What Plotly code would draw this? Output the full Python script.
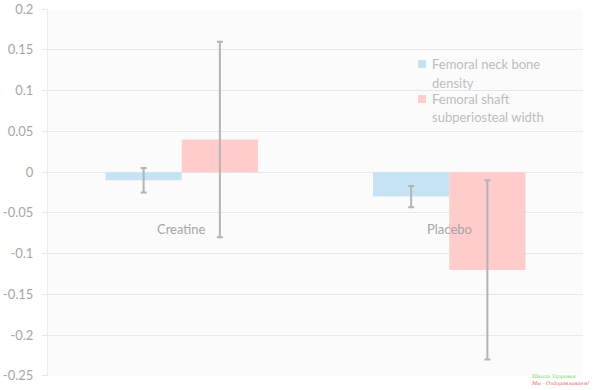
import plotly.graph_objects as go

categories = ["Creatine", "Placebo"]
series_names = ["Femoral neck bone<br>density", "Femoral shaft<br>subperiosteal width"]
neck_values = [-0.01, -0.03]
neck_errors = [0.015, 0.013]
shaft_values = [0.04, -0.12]
shaft_errors = [0.12, 0.11]
y_ticks = [0.2, 0.15, 0.1, 0.05, 0, -0.05, -0.1, -0.15, -0.2, -0.25]
y_tick_labels = ["0.2", "0.15", "0.1", "0.05", "0", "-0.05", "-0.1", "-0.15", "-0.2", "-0.25"]
colors = ["#c6e3f5", "#ffcccc"]

grey_text = "#a6a6a6"
err_color = "#b4b4b4"
FONT = "Lato, 'Open Sans', sans-serif"

W, H = 594, 390
ML, MR, MT, MB = 48, 11, 9, 14

fig = go.Figure()
fig.add_trace(go.Bar(
    x=categories, y=neck_values, name=series_names[0].replace("<br>", " "),
    marker=dict(color=colors[0], line=dict(width=0)),
    error_y=dict(type="data", array=neck_errors, color=err_color, thickness=2, width=3),
))
fig.add_trace(go.Bar(
    x=categories, y=shaft_values, name=series_names[1].replace("<br>", " "),
    marker=dict(color=colors[1], line=dict(width=0)),
    error_y=dict(type="data", array=shaft_errors, color=err_color, thickness=2, width=3),
))

for c in categories:
    fig.add_annotation(x=c, y=-0.07, text=c, showarrow=False, xref="x", yref="y",
                       font=dict(family=FONT, size=13, color=grey_text))

# custom legend (small squares + wrapped text)
pw = W - ML - MR
ph = H - MT - MB
def px_x(p):  # page x -> paper
    return (p - ML) / pw
def px_y(p):  # page y -> paper
    return 1 - (p - MT) / ph

for name, col, yc in zip(series_names, colors, [64, 99]):
    fig.add_shape(type="rect", xref="paper", yref="paper",
                  x0=px_x(418), x1=px_x(426), y0=px_y(yc + 4), y1=px_y(yc - 4),
                  fillcolor=col, line=dict(width=0))
    for k, line in enumerate(name.split("<br>")):
        fig.add_annotation(x=px_x(430), y=px_y(yc + k * 18.5), xref="paper", yref="paper",
                           xanchor="left", yanchor="middle", align="left", showarrow=False,
                           text=line, font=dict(family=FONT, size=13, color="#bdbdbd"))

# watermark logo text
fig.add_annotation(x=px_x(592), y=px_y(371), xref="paper", yref="paper", xanchor="right", yanchor="top",
                   text="Школа Здоровья<br><i><span style='color:#e06060'>Мы - Оздоравливаем!</span></i>",
                   showarrow=False, align="left",
                   font=dict(family="DejaVu Serif", size=5, color="#7ccf5a"))

fig.update_layout(
    width=W, height=H,
    margin=dict(l=ML, r=MR, t=MT, b=MB, autoexpand=False),
    paper_bgcolor="white",
    plot_bgcolor="#fbfbfb",
    barmode="group",
    bargap=0.43,
    bargroupgap=0,
    font=dict(family=FONT, size=13, color=grey_text),
    showlegend=False,
    xaxis=dict(showticklabels=False, showgrid=False, zeroline=False, showline=False, ticks="",
               automargin=False),
    yaxis=dict(range=[-0.2502, 0.2002], tickvals=y_ticks, ticktext=y_tick_labels,
               automargin=False,
               showgrid=True, gridcolor="#e8e8e8", gridwidth=1,
               zeroline=True, zerolinecolor="#e8e8e8", zerolinewidth=1,
               showline=True, linecolor="#ececec", linewidth=1,
               ticks="outside", ticklen=5, tickcolor="#e8e8e8",
               ticklabelstandoff=6,
               tickfont=dict(family=FONT, size=13, color=grey_text)),
)

fig.write_html("out.html", config={"displayModeBar": False},
               post_script="document.body.style.margin='0';")
